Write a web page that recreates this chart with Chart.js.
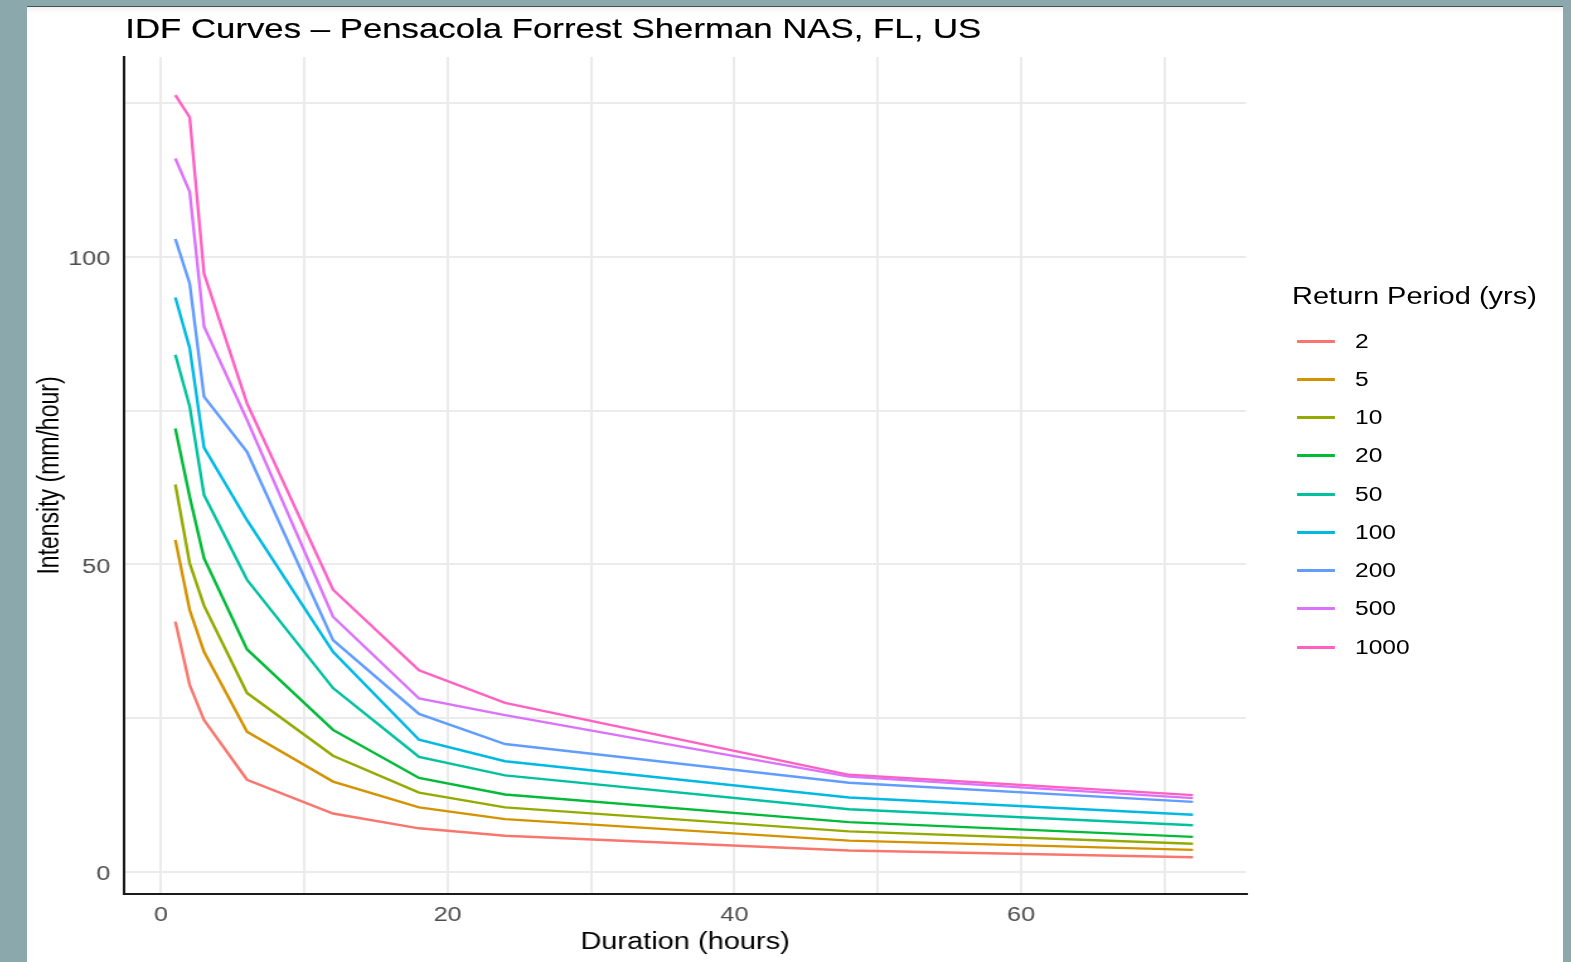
<!DOCTYPE html>
<html>
<head>
<meta charset="utf-8">
<title>IDF Curves</title>
<script src="https://cdn.jsdelivr.net/npm/chart.js@4.4.1/dist/chart.umd.min.js"></script>
<style>
    html, body { margin: 0; padding: 0; }
    body {
        width: 1571px;
        height: 962px;
        background: #8ba9ad;
        overflow: hidden;
        font-family: "Liberation Sans", Arial, sans-serif;
    }
    #panel {
        position: absolute;
        left: 27px;
        top: 6px;
        width: 1536px;
        height: 956px;
        background: #fff;
        border-top: 1px solid #4a4f52;
        box-shadow: inset 0 6px 6px -4px rgba(0, 0, 0, 0.08);
        overflow: hidden;
    }
    /* the source screenshot is stretched sideways, so draw narrow and widen */
    #stage {
        position: absolute;
        left: 0;
        top: 0;
        width: 1219px;
        height: 955px;
        transform: scaleX(1.26);
        transform-origin: 0 0;
    }
    #chartBox {
        position: absolute;
        left: 0;
        top: 0;
        width: 1219px;
        height: 955px;
    }
    #title {
        position: absolute;
        left: 78px;
        top: 6px;
        font-size: 27.6px;
        color: #000;
        white-space: nowrap;
        -webkit-text-stroke: 0.2px #000;
    }
    #legend {
        position: absolute;
        left: 1004px;
        top: 275px;
    }
    #legend .head {
        font-size: 23px;
        color: #000;
        height: 28px;
        line-height: 28px;
        margin-bottom: 12px;
        white-space: nowrap;
    }
    #legend .item {
        height: 38.25px;
        display: flex;
        align-items: center;
        font-size: 19.5px;
        color: #000;
    }
    #legend .swatch {
        width: 29.5px;
        height: 3px;
        margin-left: 4px;
        margin-right: 16.5px;
    }
</style>
</head>
<body>
<div id="panel">
    <div id="stage">
        <div id="chartBox"><canvas id="idfChart"></canvas></div>
        <div id="title">IDF Curves – Pensacola Forrest Sherman NAS, FL, US</div>
        <div id="legend"></div>
    </div>
</div>

<script>
// ============ DATA ============

const durations = [1, 2, 3, 6, 12, 18, 24, 48, 72];   // hours
const periods = ['2', '5', '10', '20', '50', '100', '200', '500', '1000'];

const rp2    = [40.7, 30.4, 24.7, 15.0, 9.5, 7.1, 5.9, 3.5, 2.4];
const rp5    = [54.0, 42.6, 35.8, 22.8, 14.7, 10.5, 8.6, 5.1, 3.6];
const rp10   = [63.0, 50.2, 43.3, 29.1, 18.9, 12.9, 10.5, 6.6, 4.6];
const rp20   = [72.1, 61.0, 51.0, 36.2, 23.1, 15.3, 12.6, 8.1, 5.7];
const rp50   = [84.1, 75.7, 61.3, 47.5, 29.9, 18.7, 15.7, 10.2, 7.6];
const rp100  = [93.4, 85.2, 69.0, 57.2, 35.8, 21.5, 18.0, 12.1, 9.3];
const rp200  = [102.9, 95.7, 77.3, 68.3, 37.7, 25.7, 20.8, 14.5, 11.4];
const rp500  = [116.0, 110.6, 88.7, 73.5, 41.5, 28.2, 25.5, 15.5, 12.0];
const rp1000 = [126.3, 122.7, 97.3, 76.2, 45.9, 32.8, 27.5, 15.8, 12.5];

const seriesValues = [rp2, rp5, rp10, rp20, rp50, rp100, rp200, rp500, rp1000];

// ggplot default hue palette, 9 levels
const colors = ['#F8766D', '#D39200', '#93AA00', '#00BA38', '#00C19F',
                '#00B9E3', '#619CFF', '#DB72FB', '#FF61C3'];

const xTicks = [0, 10, 20, 30, 40, 50, 60, 70];
const xLabels = [0, 20, 40, 60];
const yTicks = [0, 25, 50, 75, 100, 125];
const yLabels = [0, 50, 100];

// ============ LEGEND ============

const legend = document.getElementById('legend');
legend.innerHTML = '<div class="head">Return Period (yrs)</div>' +
    periods.map((p, i) => `
        <div class="item">
            <span class="swatch" style="background:${colors[i]}"></span>
            <span>${p}</span>
        </div>`).join('');

// ============ CHART ============

const datasets = periods.map((p, i) => ({
    label: p,
    data: durations.map((d, j) => ({ x: d, y: seriesValues[i][j] })),
    borderColor: colors[i],
    backgroundColor: colors[i],
    borderWidth: 2.4,
    pointRadius: 0,
    tension: 0,
    fill: false
}));

const font = 'Liberation Sans, Arial, sans-serif';
const gridColor = '#ebebeb';

new Chart(document.getElementById('idfChart'), {
    type: 'line',
    data: { datasets },
    options: {
        responsive: true,
        maintainAspectRatio: false,
        animation: false,
        layout: { padding: { top: 50, right: 251.5, bottom: 0, left: 0 } },
        plugins: {
            legend: { display: false },
            title: { display: false },
            tooltip: { enabled: false }
        },
        scales: {
            x: {
                type: 'linear',
                min: -2.58,
                max: 75.7,
                afterBuildTicks: (s) => { s.ticks = xTicks.map(v => ({ value: v })); },
                afterFit: (s) => { s.height = 68; },
                grid: { color: gridColor, lineWidth: 2, drawTicks: false },
                border: { display: true, color: '#1a1a1a', width: 2 },
                ticks: {
                    padding: 9,
                    color: '#4d4d4d',
                    font: { family: font, size: 20 },
                    maxRotation: 0,
                    callback: (v) => xLabels.includes(v) ? String(v) : ''
                },
                title: {
                    display: true,
                    text: 'Duration (hours)',
                    color: '#000',
                    font: { family: font, size: 23 },
                    padding: { top: 0, bottom: 6 }
                }
            },
            y: {
                type: 'linear',
                min: -3.58,
                max: 132.5,
                afterBuildTicks: (s) => { s.ticks = yTicks.map(v => ({ value: v })); },
                afterFit: (s) => { s.width = 77; },
                grid: { color: gridColor, lineWidth: 2, drawTicks: false },
                border: { display: true, color: '#1a1a1a', width: 2 },
                ticks: {
                    padding: 11,
                    labelOffset: 3,
                    color: '#4d4d4d',
                    font: { family: font, size: 20 },
                    callback: (v) => yLabels.includes(v) ? String(v) : ''
                },
                title: {
                    display: true,
                    text: 'Intensity (mm/hour)',
                    color: '#000',
                    font: { family: font, size: 23 },
                    padding: { top: 4.6, bottom: 0 }
                }
            }
        }
    }
});
</script>
</body>
</html>
